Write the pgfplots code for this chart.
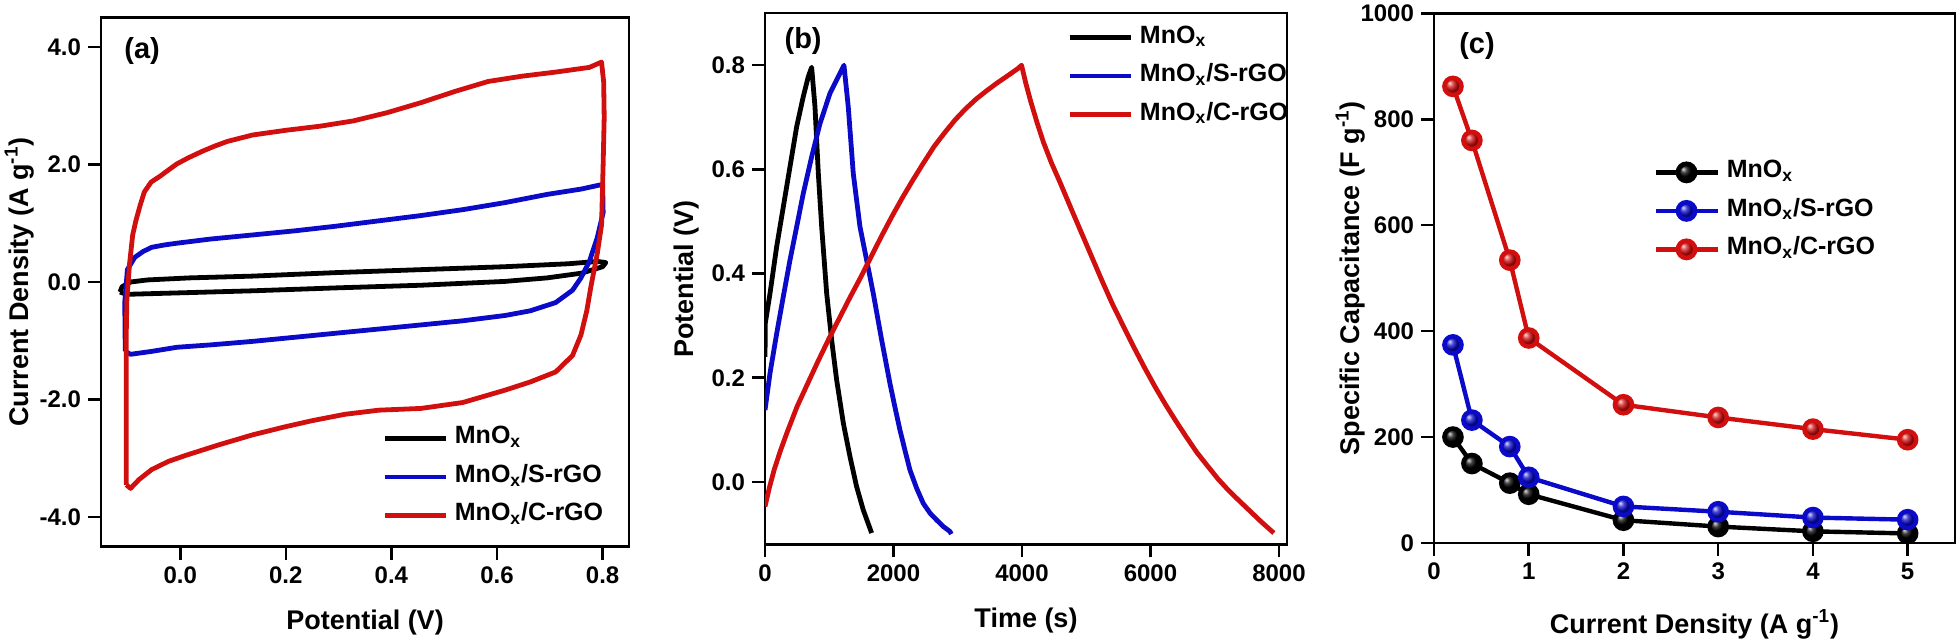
\documentclass[border=0pt]{standalone}
\usepackage{fontspec}
\setmainfont{Liberation Sans}
\usepackage{pgfplots}
\pgfplotsset{compat=1.18}

\definecolor{cvblue}{RGB}{10,10,200}
\definecolor{cvred}{RGB}{210,15,15}

\newcommand{\tickfont}{\bfseries\fontsize{12}{12}\selectfont}
\newcommand{\labfont}{\bfseries\fontsize{13.5}{13.5}\selectfont}
\newcommand{\legfont}{\bfseries\fontsize{12.5}{12.5}\selectfont}
\newcommand{\panfont}{\bfseries\fontsize{14.5}{14.5}\selectfont}

\pgfplotsset{
  panel/.style={
    scale only axis,
    anchor=south west,
    axis line style={line width=1.3pt},
    tick style={line width=1.3pt, black},
    major tick length=6.5pt,
    tick align=outside,
    xtick pos=left, ytick pos=left,
    ticklabel style={font=\tickfont},
    label style={font=\labfont},
    /pgf/number format/assume math mode=true,
    /pgf/number format/1000 sep={},
    scaled ticks=false,
    legend cell align=left,
    legend style={draw=none, fill=none, font=\legfont, anchor=west, inner sep=0pt,
      row sep=6.75pt, nodes={inner sep=0pt, text height=9pt, text depth=3.5pt},
      /tikz/every odd column/.append style={column sep=3.5pt}},
    legend image code/.code={\draw[##1,line width=2.3pt] (0pt,0pt) -- (30.5pt,0pt);},
  },
  onedec/.style={/pgf/number format/fixed, /pgf/number format/fixed zerofill,
    /pgf/number format/precision=1},
}

\begin{document}
\begin{tikzpicture}
\useasboundingbox (0,0) rectangle (980pt,320pt);

% (a) cyclic voltammetry
\begin{axis}[panel, at={(50.5pt,46.7pt)}, width=264pt, height=264.6pt,
  xmin=-0.15, xmax=0.85, ymin=-4.5, ymax=4.5,
  xtick={0,0.2,0.4,0.6,0.8}, ytick={-4,-2,0,2,4},
  xticklabel style={onedec}, yticklabel style={onedec},
  xlabel={Potential (V)}, ylabel={Current Density (A g\textsuperscript{-1})},
  xlabel style={at={(axis description cs:0.5,-0.157)}, anchor=base},
  ylabel style={at={(axis description cs:-0.155,0.5)}, anchor=center},
  legend style={at={(axis description cs:0.532,0.1316)}},
]
\addplot[black, line width=2.4pt, line join=round] coordinates {
  (-0.114,-0.17) (-0.110,-0.08) (-0.094,0.00) (-0.062,0.035) (0.018,0.07)
  (0.137,0.10) (0.296,0.16) (0.456,0.21) (0.615,0.26) (0.735,0.31)
  (0.790,0.35) (0.806,0.33) (0.800,0.26) (0.760,0.15) (0.695,0.07)
  (0.615,0.01) (0.456,-0.055) (0.296,-0.10) (0.137,-0.15) (-0.022,-0.19)
  (-0.102,-0.21) (-0.114,-0.17)
};
\addlegendentry{MnO\textsubscript{x}}
\addplot[cvblue, line width=2.4pt, line join=round] coordinates {
  (-0.104,-1.18) (-0.105,-0.35) (-0.100,0.21) (-0.086,0.42) (-0.070,0.52)
  (-0.054,0.59) (-0.030,0.63) (-0.006,0.66) (0.057,0.73) (0.137,0.80)
  (0.217,0.87) (0.296,0.95) (0.376,1.04) (0.456,1.13) (0.535,1.23)
  (0.615,1.35) (0.695,1.49) (0.759,1.58) (0.800,1.66) (0.801,1.18)
  (0.790,0.76) (0.775,0.35) (0.759,0.07) (0.743,-0.14) (0.711,-0.35)
  (0.663,-0.49) (0.615,-0.57) (0.535,-0.66) (0.456,-0.73) (0.376,-0.80)
  (0.296,-0.87) (0.217,-0.94) (0.137,-1.01) (0.057,-1.07) (-0.006,-1.11)
  (-0.054,-1.18) (-0.094,-1.23) (-0.104,-1.18)
};
\addlegendentry{MnO\textsubscript{x}/S-rGO}
\addplot[cvred, line width=2.4pt, line join=round] coordinates {
  (-0.102,-3.45) (-0.102,-2.00) (-0.102,-0.80) (-0.101,-0.30) (-0.096,0.30)
  (-0.090,0.80) (-0.084,1.04) (-0.076,1.30) (-0.068,1.53) (-0.055,1.70)
  (-0.038,1.80) (-0.020,1.92) (-0.006,2.01) (0.015,2.11) (0.041,2.22)
  (0.065,2.31) (0.089,2.39) (0.137,2.50) (0.200,2.58) (0.265,2.65)
  (0.328,2.74) (0.392,2.88) (0.456,3.05) (0.520,3.24) (0.583,3.41)
  (0.647,3.50) (0.711,3.57) (0.775,3.65) (0.798,3.74) (0.802,3.40)
  (0.803,2.80) (0.801,2.00) (0.798,0.97) (0.790,0.49) (0.778,-0.07)
  (0.770,-0.49) (0.759,-0.90) (0.743,-1.25) (0.711,-1.53) (0.663,-1.70)
  (0.615,-1.84) (0.535,-2.05) (0.456,-2.15) (0.376,-2.18) (0.312,-2.25)
  (0.249,-2.36) (0.200,-2.46) (0.137,-2.60) (0.073,-2.77) (0.010,-2.95)
  (-0.022,-3.05) (-0.054,-3.19) (-0.078,-3.36) (-0.094,-3.51) (-0.102,-3.45)
};
\addlegendentry{MnO\textsubscript{x}/C-rGO}
\node[font=\panfont] at (rel axis cs:0.078,0.937) {(a)};
\end{axis}

% (b) galvanostatic charge-discharge
\begin{axis}[panel, at={(382.5pt,47.75pt)}, width=261pt, height=265.7pt,
  xmin=0, xmax=8125, ymin=-0.12, ymax=0.9,
  xtick={0,2000,4000,6000,8000}, ytick={0,0.2,0.4,0.6,0.8},
  yticklabel style={onedec},
  xlabel={Time (s)}, ylabel={Potential (V)},
  xlabel style={at={(axis description cs:0.5,-0.157)}, anchor=base},
  ylabel style={at={(axis description cs:-0.151,0.5)}, anchor=center},
  legend style={at={(axis description cs:0.5785,0.8816)}},
]
\addplot[black, line width=2.4pt, line join=round] coordinates {
  (0,0.24) (5,0.305) (78,0.362) (182,0.452) (285,0.528) (389,0.605)
  (493,0.682) (596,0.740) (674,0.778) (726,0.796) (778,0.72) (830,0.592)
  (882,0.49) (960,0.362) (1037,0.273) (1115,0.196) (1219,0.113)
  (1322,0.049) (1426,-0.009) (1530,-0.054) (1660,-0.098)
};
\addlegendentry{MnO\textsubscript{x}}
\addplot[cvblue, line width=2.4pt, line join=round] coordinates {
  (0,0.138) (78,0.209) (182,0.285) (285,0.356) (389,0.426) (493,0.49)
  (596,0.554) (726,0.624) (856,0.688) (1011,0.746) (1141,0.778)
  (1229,0.80) (1296,0.72) (1374,0.592) (1478,0.49) (1582,0.426)
  (1685,0.362) (1815,0.273) (1945,0.189) (2020,0.145) (2100,0.10)
  (2180,0.060) (2256,0.023) (2360,-0.012) (2463,-0.041) (2570,-0.060)
  (2671,-0.073) (2780,-0.086) (2878,-0.095) (2900,-0.10)
};
\addlegendentry{MnO\textsubscript{x}/S-rGO}
\addplot[cvred, line width=2.4pt, line join=round] coordinates {
  (0,-0.047) (70,-0.010) (144,0.024) (240,0.060) (340,0.094) (500,0.145)
  (668,0.190) (830,0.233) (995,0.275) (1160,0.315) (1322,0.354)
  (1490,0.393) (1650,0.432) (1810,0.471) (1977,0.510) (2140,0.546)
  (2304,0.580) (2470,0.613) (2632,0.644) (2800,0.671) (2959,0.695)
  (3120,0.716) (3286,0.735) (3450,0.751) (3614,0.766) (3780,0.780)
  (3941,0.794) (3993,0.800) (4060,0.765) (4137,0.730) (4234,0.690)
  (4334,0.652) (4460,0.612) (4596,0.574) (4760,0.526) (4923,0.479)
  (5090,0.431) (5250,0.385) (5410,0.341) (5578,0.299) (5740,0.259)
  (5905,0.220) (6070,0.183) (6232,0.149) (6400,0.116) (6560,0.086)
  (6720,0.057) (6887,0.031) (7050,0.006) (7214,-0.016) (7380,-0.036)
  (7542,-0.055) (7720,-0.076) (7920,-0.098)
};
\addlegendentry{MnO\textsubscript{x}/C-rGO}
\node[font=\panfont] at (rel axis cs:0.073,0.9475) {(b)};
\end{axis}

% (c) specific capacitance
\begin{axis}[panel, at={(717pt,48.5pt)}, width=260.5pt, height=264.85pt,
  xmin=0, xmax=5.5, ymin=0, ymax=1000,
  xtick={0,1,2,3,4,5}, ytick={0,200,400,600,800,1000},
  xlabel={Current Density (A g\textsuperscript{-1})},
  ylabel={Specific Capacitance (F g\textsuperscript{-1})},
  xlabel style={at={(axis description cs:0.5,-0.170)}, anchor=base},
  ylabel style={at={(axis description cs:-0.161,0.5)}, anchor=center},
  legend style={at={(axis description cs:0.42,0.627)}},
  legend image code/.code={\draw[#1,line width=2.3pt, mark repeat=2, mark phase=2]
    plot coordinates {(0pt,0pt) (15.5pt,0pt) (31pt,0pt)};},
  clip=false,
]
\addplot[black, line width=2.2pt, mark=ball, mark size=4.3pt,
  mark options={ball color=black}] coordinates {
  (0.2,200) (0.4,150) (0.8,113) (1,92) (2,43) (3,31) (4,22) (5,18)
};
\addlegendentry{MnO\textsubscript{x}}
\addplot[cvblue, line width=2.2pt, mark=ball, mark size=4.3pt,
  mark options={ball color=cvblue}] coordinates {
  (0.2,374) (0.4,232) (0.8,182) (1,124) (2,69) (3,59) (4,48) (5,44)
};
\addlegendentry{MnO\textsubscript{x}/S-rGO}
\addplot[cvred, line width=2.2pt, mark=ball, mark size=4.3pt,
  mark options={ball color=cvred}] coordinates {
  (0.2,862) (0.4,760) (0.8,534) (1,387) (2,261) (3,237) (4,215) (5,195)
};
\addlegendentry{MnO\textsubscript{x}/C-rGO}
\node[font=\panfont] at (rel axis cs:0.0825,0.938) {(c)};
\end{axis}
\end{tikzpicture}
\end{document}
